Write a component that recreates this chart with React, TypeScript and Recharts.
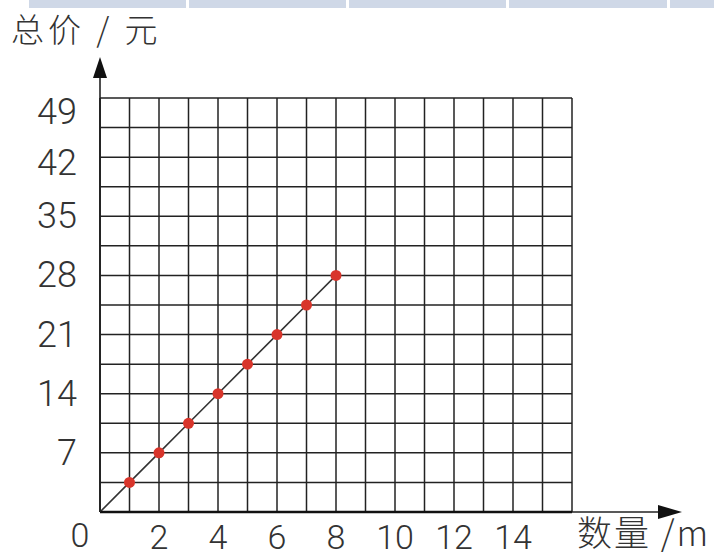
import React from 'react';
import { LineChart, Line, XAxis, YAxis, CartesianGrid } from 'recharts';

// quantity (m) and total price (yuan)
const quantity = [0, 1, 2, 3, 4, 5, 6, 7, 8];
const totalPrice = [0, 3.5, 7, 10.5, 14, 17.5, 21, 24.5, 28];

// one grid line per unit on x, per 3.5 yuan on y
const xGridTicks = [0, 1, 2, 3, 4, 5, 6, 7, 8, 9, 10, 11, 12, 13, 14, 15, 16];
const xLabelTicks = [0, 2, 4, 6, 8, 10, 12, 14];
const yGridTicks = [0, 3.5, 7, 10.5, 14, 17.5, 21, 24.5, 28, 31.5, 35, 38.5, 42, 45.5, 49];
const yLabelTicks = [7, 14, 21, 28, 35, 42, 49];

const xTitle = '数量 /m';
const yTitle = '总价 / 元';

const data = quantity.map((q, i) => ({ q, price: totalPrice[i] }));

const W = 714;
const H = 556;
const LEFT = 100;
const TOP = 98;
const RIGHT = 572;
const BOTTOM = 512;
const Y_AXIS_W = 60;
const X_AXIS_H = 40;

const digitFont = 'Roboto, "Liberation Sans", Arial, sans-serif';
const cjkFont = '"Noto Sans CJK SC", sans-serif';

// the printed labels near the top sit a little below their grid lines
const yLabelShift: Record<number, number> = { 49: 14, 42: 6 };

const renderXTick = (props: any) => {
  const { x, y, payload } = props;
  const v = Number(payload.value);
  if (!xLabelTicks.includes(v)) return <g />;
  const dx = v === 0 ? -20 : 0;
  const dy = v === 0 ? 33 : 35;
  return (
    <text x={x + dx} y={y + dy} textAnchor="middle" fontSize={34} fontWeight={300} fill="#333" fontFamily={digitFont}>
      {v}
    </text>
  );
};

const renderYTick = (props: any) => {
  const { x, y, payload } = props;
  const v = Number(payload.value);
  if (!yLabelTicks.includes(v)) return <g />;
  return (
    <text
      x={x - 21}
      y={y + 12 + (yLabelShift[v] || 0)}
      textAnchor="end"
      fontSize={36}
      fontWeight={300}
      fill="#333"
      fontFamily={digitFont}
    >
      {v}
    </text>
  );
};

const Dot = (props: any) => {
  const { cx, cy, payload } = props;
  if (payload.q === 0) return <g key="origin" />;
  return <circle key={payload.q} cx={cx} cy={cy} r={5.5} fill="#d8352b" />;
};

const bars = [
  [29, 186],
  [189, 346],
  [349, 506],
  [509, 667],
  [670, 714],
];

export default function App() {
  return (
    <div style={{ position: 'absolute', left: 0, top: 0, width: W, height: H, background: '#fff' }}>
      <LineChart
        width={W}
        height={H}
        data={data}
        margin={{ left: LEFT - Y_AXIS_W, top: TOP, right: W - RIGHT, bottom: H - BOTTOM - X_AXIS_H }}
      >
        <CartesianGrid stroke="#222" strokeWidth={1.5} horizontal vertical />
        <XAxis
          type="number"
          dataKey="q"
          domain={[0, 16]}
          ticks={xGridTicks}
          interval={0}
          height={X_AXIS_H}
          tickLine={false}
          tickSize={0}
          axisLine={{ stroke: '#111', strokeWidth: 2.5 }}
          tick={renderXTick}
        />
        <YAxis
          type="number"
          domain={[0, 49]}
          ticks={yGridTicks}
          interval={0}
          width={Y_AXIS_W}
          tickLine={false}
          tickSize={0}
          axisLine={{ stroke: '#222', strokeWidth: 1.6 }}
          tick={renderYTick}
        />
        <Line
          type="linear"
          dataKey="price"
          stroke="#333"
          strokeWidth={1.6}
          dot={<Dot />}
          activeDot={false}
          isAnimationActive={false}
        />
      </LineChart>
      <svg width={W} height={H} style={{ position: 'absolute', left: 0, top: 0, pointerEvents: 'none' }}>
        {bars.map(([a, b]) => (
          <rect key={a} x={a} y={0} width={b - a} height={8} fill="#cfd8e7" />
        ))}
        <line x1={LEFT} y1={BOTTOM} x2={LEFT} y2={75} stroke="#222" strokeWidth={1.6} />
        <polygon points={`${LEFT},57 ${LEFT - 7},78 ${LEFT + 7},78`} fill="#111" />
        <line x1={RIGHT} y1={BOTTOM} x2={660} y2={BOTTOM} stroke="#222" strokeWidth={1.6} />
        <polygon points={`682,${BOTTOM} 658,${BOTTOM - 7} 658,${BOTTOM + 7}`} fill="#111" />
        <text x={11} y={42} fontSize={33} fill="#333" fontFamily={cjkFont} fontWeight={300} letterSpacing={4}>
          {yTitle}
        </text>
        <text x={577} y={546} fontSize={35} fill="#333" fontFamily={cjkFont} fontWeight={300} letterSpacing={2}>
          {xTitle}
        </text>
      </svg>
    </div>
  );
}
